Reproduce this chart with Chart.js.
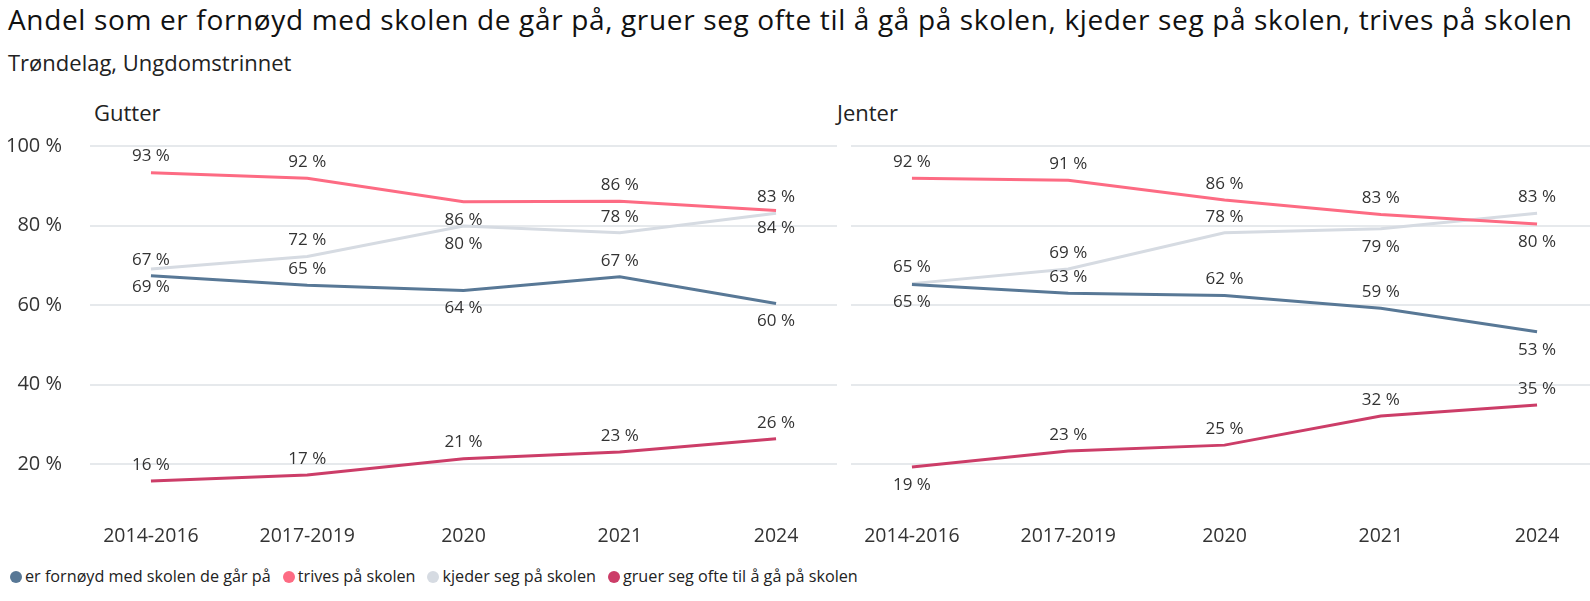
<!DOCTYPE html>
<html lang="no">
<head>
<meta charset="utf-8">
<title>Trivsel i skolen</title>
<script src="https://cdn.jsdelivr.net/npm/chart.js@4.4.1/dist/chart.umd.min.js"></script>
<style>
    html, body { margin: 0; padding: 0; background: #fff; overflow: hidden; }
    body { width: 1590px; height: 601px; position: relative; font-family: "Open Sans", "Noto Sans", sans-serif; color: #222; }
    #tittel { position: absolute; left: 8px; top: 0px; font-size: 28px; letter-spacing: 0.65px; white-space: nowrap; color: #111; line-height: normal; }
    #undertittel { position: absolute; left: 8px; top: 47px; font-size: 22px; white-space: nowrap; }
    .panel-tittel { position: absolute; top: 97px; font-size: 22px; }
    .boks { position: absolute; top: 121px; height: 430px; }
    #boks-gutter { left: 0; width: 840px; }
    #boks-jenter { left: 851px; width: 747px; }
    #forklaring { position: absolute; left: 10px; top: 565px; font-size: 16.2px; white-space: nowrap; display: flex; }
    #forklaring span.punkt { display: inline-block; width: 12px; height: 12px; border-radius: 50%; margin-right: 3px; vertical-align: -1px; }
    #forklaring .element { margin-right: 12px; }
</style>
</head>
<body>
<div id="tittel">Andel som er fornøyd med skolen de går på, gruer seg ofte til å gå på skolen, kjeder seg på skolen, trives på skolen</div>
<div id="undertittel">Trøndelag, Ungdomstrinnet</div>
<div class="panel-tittel" style="left:94px">Gutter</div>
<div class="panel-tittel" style="left:837px">Jenter</div>
<div class="boks" id="boks-gutter"><canvas id="gutter-grafikk" width="840" height="430"></canvas></div>
<div class="boks" id="boks-jenter"><canvas id="jenter-grafikk" width="747" height="430"></canvas></div>
<div id="forklaring"></div>

<script>
// kategorier og serier
const aar = ['2014-2016', '2017-2019', '2020', '2021', '2024'];
const serieNavn = ['er fornøyd med skolen de går på', 'trives på skolen', 'kjeder seg på skolen', 'gruer seg ofte til å gå på skolen'];
const yTicks = [20, 40, 60, 80, 100];

// Gutter
const gutterFornoyd = [67.4, 65.0, 63.7, 67.1, 60.4];
const gutterTrives  = [93.3, 91.9, 86.0, 86.1, 83.8];
const gutterKjeder  = [69.1, 72.2, 79.9, 78.2, 83.1];
const gutterGruer   = [15.8, 17.3, 21.4, 23.1, 26.4];

// Jenter
const jenterFornoyd = [65.2, 63.0, 62.4, 59.2, 53.3];
const jenterTrives  = [91.9, 91.4, 86.4, 82.8, 80.4];
const jenterKjeder  = [65.4, 69.1, 78.2, 79.2, 83.1];
const jenterGruer   = [19.3, 23.3, 24.8, 32.1, 34.9];

const farger = ['#587896', '#fd6b83', '#d6dbe2', '#cc3d68'];

// hvor etiketten står: 'o' = over linjen, 'u' = under
const plasseringGutter = [
    ['o', 'o', 'u', 'o', 'u'],
    ['o', 'o', 'u', 'o', 'u'],
    ['u', 'o', 'u', 'o', 'o'],
    ['o', 'o', 'o', 'o', 'o']
];
const plasseringJenter = [
    ['u', 'o', 'o', 'o', 'u'],
    ['o', 'o', 'o', 'o', 'u'],
    ['o', 'o', 'o', 'u', 'o'],
    ['u', 'o', 'o', 'o', 'o']
];

const fontFamilie = '"Open Sans", "Noto Sans", sans-serif';

const etikettPlugin = {
    id: 'etiketter',
    afterDatasetsDraw(chart, args, opts) {
        const ctx = chart.ctx;
        ctx.save();
        ctx.font = '17px ' + fontFamilie;
        ctx.fillStyle = '#333';
        ctx.textAlign = 'center';
        ctx.textBaseline = 'middle';
        chart.data.datasets.forEach((ds, d) => {
            const meta = chart.getDatasetMeta(d);
            meta.data.forEach((punkt, i) => {
                const verdi = ds.data[i].y;
                const pos = opts.plassering[d][i];
                const y = pos === 'o' ? punkt.y - 16 : punkt.y + 18;
                ctx.fillText(Math.round(verdi) + ' %', punkt.x, y);
            });
        });
        ctx.restore();
    }
};

function lagGrafikk(id, serier, plassering, visYAkse) {
    const ctx = document.getElementById(id).getContext('2d');
    return new Chart(ctx, {
        type: 'line',
        data: {
            datasets: serier.map((verdier, d) => ({
                label: serieNavn[d],
                data: verdier.map((v, i) => ({ x: i, y: v })),
                borderColor: farger[d],
                backgroundColor: farger[d],
                borderWidth: 3,
                pointRadius: 0,
                tension: 0
            }))
        },
        options: {
            responsive: false,
            animation: false,
            layout: { padding: { top: 25, bottom: 7, left: 0, right: visYAkse ? 3 : 0 } },
            plugins: {
                legend: { display: false },
                tooltip: { enabled: false },
                etiketter: { plassering: plassering }
            },
            scales: {
                x: {
                    type: 'linear',
                    min: -0.39,
                    max: 4.39,
                    grid: { display: false },
                    border: { display: false },
                    afterBuildTicks: (skala) => { skala.ticks = aar.map((_, i) => ({ value: i })); },
                    afterFit: (skala) => { skala.height = 40; skala.paddingLeft = 0; skala.paddingRight = 0; },
                    ticks: {
                        padding: 13,
                        maxRotation: 0,
                        color: '#333',
                        font: { family: fontFamilie, size: 19.5 },
                        callback: (v) => aar[v]
                    }
                },
                y: {
                    min: 10,
                    max: 100,
                    grid: { color: '#e6e9ec', lineWidth: 2, drawTicks: false },
                    border: { display: false },
                    afterBuildTicks: (skala) => { skala.ticks = yTicks.map(v => ({ value: v })); },
                    afterFit: (skala) => { skala.width = visYAkse ? 90 : 0; skala.paddingTop = 0; skala.paddingBottom = 0; },
                    ticks: {
                        display: visYAkse,
                        padding: 28,
                        color: '#333',
                        font: { family: fontFamilie, size: 20 },
                        callback: (v) => v + ' %'
                    }
                }
            }
        },
        plugins: [etikettPlugin]
    });
}

lagGrafikk('gutter-grafikk', [gutterFornoyd, gutterTrives, gutterKjeder, gutterGruer], plasseringGutter, true);
lagGrafikk('jenter-grafikk', [jenterFornoyd, jenterTrives, jenterKjeder, jenterGruer], plasseringJenter, false);

// forklaring
const forklaring = document.getElementById('forklaring');
serieNavn.forEach((navn, d) => {
    const el = document.createElement('div');
    el.className = 'element';
    el.innerHTML = '<span class="punkt" style="background:' + farger[d] + '"></span>' + navn;
    forklaring.appendChild(el);
});
</script>
</body>
</html>
